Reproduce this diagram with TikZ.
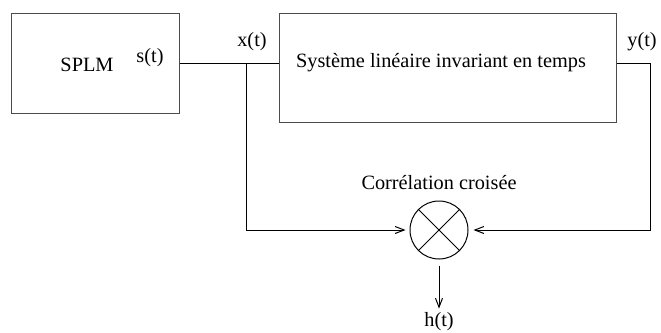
\documentclass[tikz,border=0pt]{standalone}
\usepackage{fontspec}
\setmainfont{Liberation Serif}
\usetikzlibrary{arrows.meta,positioning}
\tikzset{
  blockbox/.style={draw=black!70, line width=1pt, inner sep=0pt},
  mixer/.style={circle, draw, line width=1pt, minimum size=58pt, inner sep=0pt},
  sig/.style={line width=1pt},
  sigarrow/.style={sig, -{Straight Barb[length=9pt,width=7pt]}},
  lbl/.style={inner sep=0pt, font=\fontsize{20.3}{23}\selectfont},
}
\begin{document}
\begin{tikzpicture}[x=1pt, y=-1pt]
    \useasboundingbox (0,0) rectangle (661,332);
    % Blocks
    \node[blockbox, minimum width=168pt, minimum height=100pt] (splm) at (95,63) {};
    \node[lbl] (splmtxt) at (87,65) {SPLM};
    \node[blockbox, minimum width=337pt, minimum height=109pt] (sys) at (447.5,67.5) {};
    \node[lbl] (systxt) at (441,63) {Système linéaire invariant en temps};
    \node[mixer] (mult) at (439,230) {};
    \draw[sig] (mult.north west) -- (mult.south east);
    \draw[sig] (mult.north east) -- (mult.south west);
    \node[lbl] (corr) at (439,183) {Corrélation croisée};
    \node[lbl] (hout) at (439,322) {h(t)};
    % Signal labels
    \node[lbl] (slbl) at (150,58) {s(t)};
    \node[lbl] (xlbl) at (252,42) {x(t)};
    \node[lbl] (ylbl) at (642,42) {y(t)};
    % Connectors
    \coordinate (tap) at (246,63);
    \coordinate (ycorner) at (650,63);
    \draw[sig] (splm.east) -- (splm.east -| sys.west);
    \draw[sigarrow, shorten >=4pt] (tap) |- (mult.west);
    \draw[sig] (ycorner -| sys.east) -- (ycorner);
    \draw[sigarrow, shorten >=5pt] (ycorner) |- (mult.east);
    \draw[sigarrow, shorten <=6pt, shorten >=4pt] (mult.south) -- (hout.north);
\end{tikzpicture}
\end{document}
